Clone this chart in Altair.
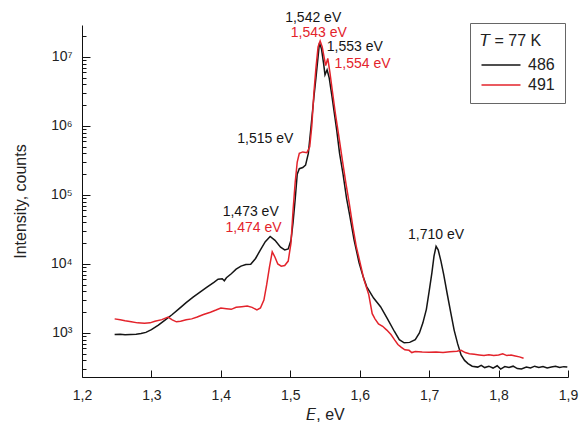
import altair as alt
import pandas as pd

# ---- data ----
e_486 = [1.247, 1.255, 1.262, 1.270, 1.278, 1.285, 1.292, 1.300, 1.310, 1.320, 1.330, 1.340, 1.350,
         1.360, 1.370, 1.380, 1.390, 1.396, 1.402, 1.405, 1.408, 1.415, 1.422, 1.429, 1.436, 1.443,
         1.450, 1.457, 1.464, 1.471, 1.478, 1.486, 1.492, 1.497, 1.501, 1.504, 1.507, 1.510, 1.513,
         1.518, 1.522, 1.526, 1.530, 1.534, 1.537, 1.540, 1.542, 1.545, 1.548, 1.550, 1.553, 1.556,
         1.560, 1.564, 1.567, 1.571, 1.576, 1.581, 1.586, 1.592, 1.599, 1.605, 1.610, 1.620, 1.630,
         1.640, 1.650, 1.657, 1.664, 1.672, 1.680, 1.686, 1.691, 1.696, 1.700, 1.704, 1.707, 1.710,
         1.713, 1.717, 1.721, 1.726, 1.731, 1.736, 1.741, 1.746, 1.751, 1.756, 1.762, 1.770, 1.775,
         1.780, 1.786, 1.792, 1.798, 1.803, 1.809, 1.815, 1.821, 1.827, 1.833, 1.840, 1.846, 1.852,
         1.858, 1.864, 1.870, 1.876, 1.882, 1.888, 1.894, 1.899]
i_486 = [950, 960, 940, 950, 960, 980, 1020, 1120, 1300, 1550, 1850, 2250, 2750,
         3300, 3900, 4600, 5400, 6000, 6100, 5700, 6300, 7200, 8400, 9300, 9800, 9900,
         12000, 16000, 21000, 25000, 22000, 17500, 16000, 16500, 22000, 40000, 85000, 200000, 240000,
         250000, 270000, 400000, 1000000, 2600000, 5000000, 10000000, 16000000, 13000000, 8000000, 5500000, 6500000, 5000000,
         2700000, 1400000, 850000, 400000, 200000, 90000, 48000, 22000, 10500, 6500, 4700, 3200, 2400,
         1600, 1050, 800, 720, 730, 800, 1000, 1400, 2200, 4000, 7500, 13000, 18000,
         16000, 11000, 7000, 3700, 2000, 1100, 700, 480, 400, 360, 330, 320, 340,
         315, 330, 310, 335, 300, 325, 315, 330, 305, 300, 320, 310, 330,
         315, 325, 310, 320, 330, 315, 325, 320]

e_491 = [1.247, 1.255, 1.262, 1.271, 1.280, 1.290, 1.298, 1.305, 1.315, 1.324, 1.330, 1.336, 1.342,
         1.350, 1.358, 1.366, 1.375, 1.385, 1.393, 1.400, 1.408, 1.415, 1.422, 1.430, 1.438, 1.445,
         1.452, 1.457, 1.462, 1.466, 1.470, 1.474, 1.478, 1.482, 1.487, 1.492, 1.497, 1.501, 1.504,
         1.507, 1.510, 1.513, 1.518, 1.524, 1.528, 1.531, 1.534, 1.537, 1.540, 1.543, 1.546, 1.549,
         1.551, 1.554, 1.557, 1.561, 1.565, 1.570, 1.575, 1.580, 1.585, 1.590, 1.595, 1.600, 1.606,
         1.613, 1.618, 1.622, 1.627, 1.633, 1.639, 1.645, 1.650, 1.655, 1.660, 1.665, 1.671, 1.675,
         1.680, 1.690, 1.700, 1.710, 1.720, 1.730, 1.740, 1.746, 1.752, 1.758, 1.765, 1.772, 1.779,
         1.786, 1.793, 1.800, 1.806, 1.812, 1.818, 1.824, 1.830, 1.836]
i_491 = [1600, 1550, 1500, 1450, 1400, 1380, 1400, 1480, 1560, 1700, 1550, 1450, 1480,
         1550, 1600, 1700, 1850, 2000, 2150, 2300, 2250, 2200, 2350, 2400, 2450, 2350,
         2150, 2300, 3000, 5000, 9000, 15000, 12500, 10000, 9300, 9500, 11000, 20000, 60000,
         150000, 300000, 400000, 420000, 410000, 500000, 1000000, 3000000, 7000000, 14000000, 17000000, 14000000, 9500000,
         7500000, 9500000, 6000000, 3000000, 1500000, 700000, 320000, 150000, 75000, 35000, 18000, 11000, 6000,
         3600, 1900, 1600, 1350, 1250, 1100, 950, 800, 680, 620, 570, 560, 520,
         540, 530, 525, 530, 520, 535, 545, 560, 520, 500, 490, 480, 470,
         485, 470, 480, 500, 470, 480, 465, 450, 430]

ann_text = ["1,542 eV", "1,543 eV", "1,553 eV", "1,554 eV", "1,515 eV", "1,473 eV", "1,474 eV", "1,710 eV"]
ann_e = [1.533, 1.541, 1.593, 1.604, 1.464, 1.443, 1.447, 1.710]
ann_i = [3.7e7, 2.25e7, 1.38e7, 7.9e6, 6.4e5, 5.6e4, 3.3e4, 2.6e4]
ann_series = ["486", "491", "486", "491", "486", "486", "491", "486"]

series_names = ["486", "491"]
series_colors = ["#151515", "#e3232b"]

x_ticks = [1.2, 1.3, 1.4, 1.5, 1.6, 1.7, 1.8, 1.9]
y_major = [1000, 10000, 100000, 1000000, 10000000]
y_minor = [k * 10 ** n for n in range(2, 8) for k in range(2, 10) if 230 <= k * 10 ** n <= 2.9e7]

# ---- tables ----
lines = pd.concat([
    pd.DataFrame({"E": e_486, "I": i_486, "series": "486"}),
    pd.DataFrame({"E": e_491, "I": i_491, "series": "491"}),
])
color_of = dict(zip(series_names, series_colors))
ann = pd.DataFrame({"text": ann_text, "E": ann_e, "I": ann_i,
                    "col": [color_of[s] for s in ann_series]})

FONT = "Liberation Sans"
major_list = "[" + ",".join(str(v) for v in y_major) + "]"
sup = "['⁰','¹','²','³','⁴','⁵','⁶','⁷','⁸','⁹']"

xscale = alt.Scale(domain=[1.2, 1.9], nice=False, zero=False)
yscale = alt.Scale(type="log", domain=[230, 2.9e7], nice=False)

xaxis = alt.Axis(
    values=x_ticks,
    labelExpr="replace(format(datum.value, '.1f'), '.', ',')",
    tickSize={"expr": "-7"},
    labelPadding=18,
    labelFontSize=14, labelFont=FONT, labelColor="#222",
    title="𝘌, eV", titleFont=FONT, titleFontSize=16, titleFontWeight="normal",
    titleColor="#222", titlePadding=4,
    grid=False, domainColor="#111", tickColor="#111", labelFlush=False,
)
yaxis = alt.Axis(
    values=sorted(y_major + y_minor),
    labelExpr=f"indexof({major_list}, datum.value) >= 0 ? '10' + {sup}[round(log(datum.value)/LN10)] : ''",
    tickSize={"condition": {"test": f"indexof({major_list}, datum.value) >= 0", "value": -8}, "value": -4},
    labelPadding=18, labelOverlap=False,
    labelFontSize=14, labelFont=FONT, labelColor="#222",
    title="Intensity, counts", titleFont=FONT, titleFontSize=16, titleFontWeight="normal",
    titleColor="#222", titlePadding=22,
    grid=False, domainColor="#111", tickColor="#111",
)

base = alt.Chart(lines)
line_layer = base.mark_line(strokeWidth=1.5).encode(
    x=alt.X("E:Q", scale=xscale, axis=xaxis),
    y=alt.Y("I:Q", scale=yscale, axis=yaxis),
    color=alt.Color(
        "series:N",
        scale=alt.Scale(domain=series_names, range=series_colors),
        legend=alt.Legend(
            title="𝘛 = 77  K", orient="none", legendX=388, legendY=-2,
            strokeColor="#666", fillColor="white", padding=10,
            symbolType="M-1,0H5", symbolSize=169, symbolStrokeWidth=1.5,
            labelFontSize=16, labelFont=FONT, labelColor="#222", labelOffset=32,
            titleFontSize=16, titleFont=FONT, titleFontWeight="normal", titleColor="#222",
            titlePadding=8, rowPadding=4,
        ),
    ),
    detail="series:N",
)

text_layer = alt.Chart(ann).mark_text(font=FONT, fontSize=14, align="center", baseline="middle").encode(
    x=alt.X("E:Q", scale=xscale),
    y=alt.Y("I:Q", scale=yscale),
    text="text:N",
    color=alt.Color("col:N", scale=None),
)

chart = alt.layer(line_layer, text_layer).properties(
    width=486, height=352,
    autosize=alt.AutoSizeParams(type="none"),
    padding={"left": 74, "top": 17, "right": 11, "bottom": 50},
).configure_view(stroke=None)

chart.save("out.html", embed_options={"renderer": "svg", "actions": False})
